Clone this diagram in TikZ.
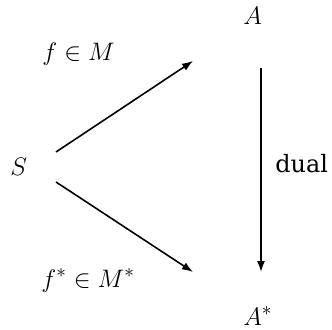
\documentclass[tikz,border=0pt]{standalone}
\usepackage{amsmath,amssymb}
\usepackage{fontspec}
\newfontfamily\dualfont{DejaVu Serif}
\usetikzlibrary{positioning,arrows.meta}
\tikzset{
  obj/.style={inner sep=0pt,anchor=base west,font=\fontsize{15.2}{18}\selectfont},
  lab/.style={obj},
  arr/.style={-{Latex[length=2.2mm,width=1.6mm]},line width=0.9pt},
}
\begin{document}
\begin{tikzpicture}
\useasboundingbox (0,0) rectangle (6.64,6.58);
\node[obj] (S) at (0.2,3.06) {$S$};
\node[obj] (A) at (4.86,6.08) {$A$};
\node[obj] (As) at (4.86,0.08) {$A^*$};
\node[lab] (fM) at (0.84,5.36) {$f\in M$};
\node[lab] (fsM) at (0.82,0.84) {$f^*\in M^*$};
\node[lab,font=\dualfont\fontsize{13.6}{16}\selectfont] (dual) at (5.5,3.13) {dual};
\coordinate (s1) at (1.12,3.54); \coordinate (e1) at (3.86,5.36);
\coordinate (s2) at (1.12,2.94); \coordinate (e2) at (3.86,1.14);
\coordinate (s3) at (5.22,5.22); \coordinate (e3) at (5.22,1.14);
\draw[arr] (s1)--(e1); \draw[arr] (s2)--(e2); \draw[arr] (s3)--(e3);
\end{tikzpicture}
\end{document}
